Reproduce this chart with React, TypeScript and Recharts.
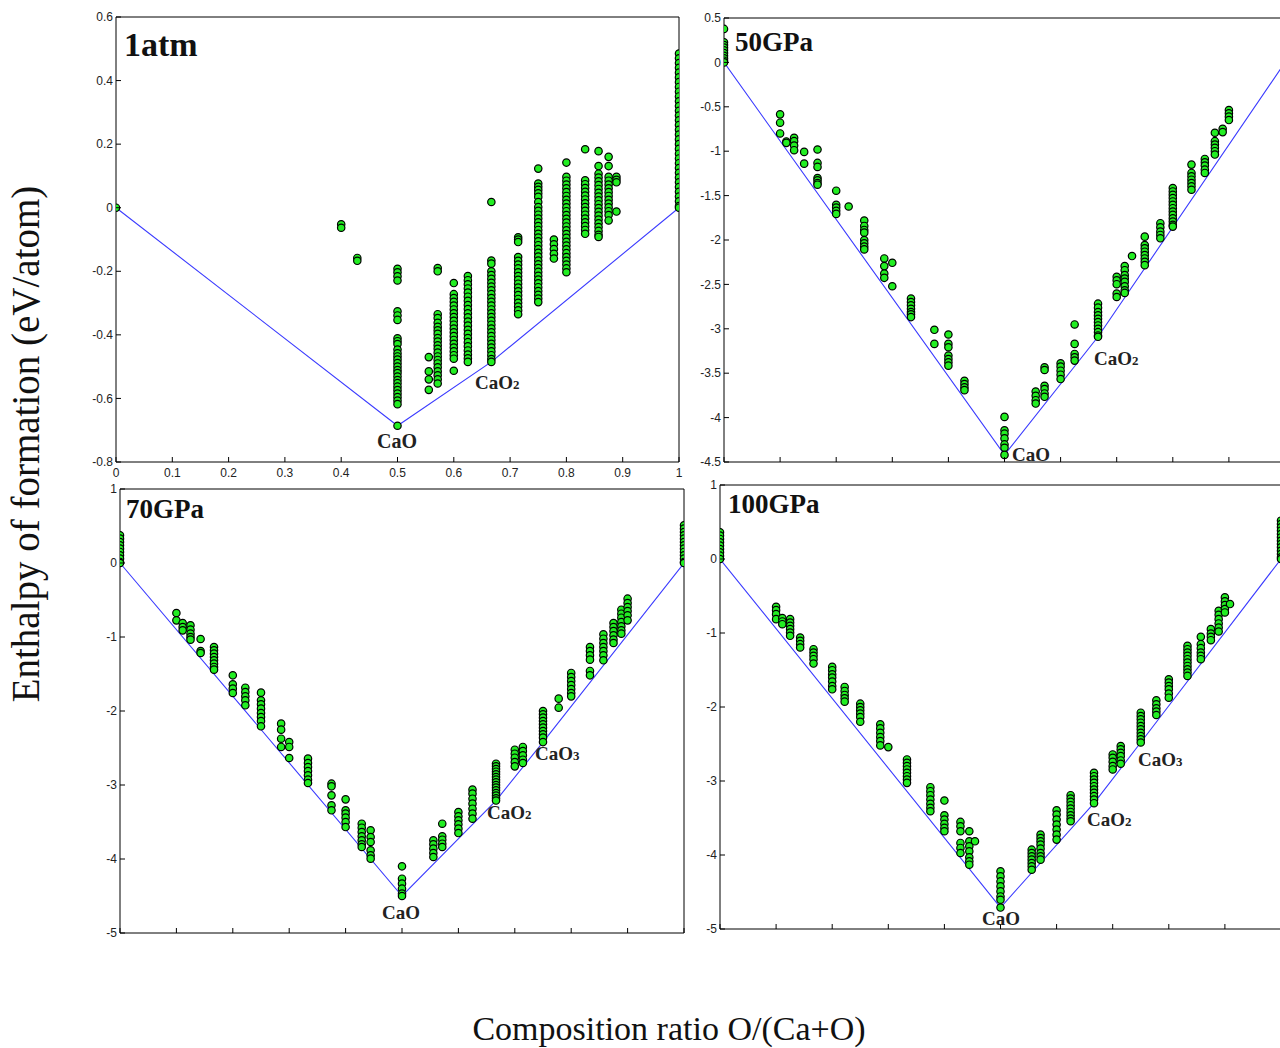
import React from 'react';
import { ComposedChart, Scatter, Line, XAxis, YAxis, ReferenceArea } from 'recharts';

type Col = [number, number[]];
type Pt = { x: number; y: number };

// ---------- shared ticks ----------
const xTicks = [0, 0.1, 0.2, 0.3, 0.4, 0.5, 0.6, 0.7, 0.8, 0.9, 1];
const xTickLabels = ['0', '0.1', '0.2', '0.3', '0.4', '0.5', '0.6', '0.7', '0.8', '0.9', '1'];
const yTicks1atm = [0.6, 0.4, 0.2, 0, -0.2, -0.4, -0.6, -0.8];
const yTicks50 = [0.5, 0, -0.5, -1, -1.5, -2, -2.5, -3, -3.5, -4, -4.5];
const yTicks70 = [1, 0, -1, -2, -3, -4, -5];
const yTicks100 = [1, 0, -1, -2, -3, -4, -5];

// ---------- 1 atm ----------
const cols1atm: Col[] = [
  [0, [0]],
  [0.4, [-0.052, -0.063]],
  [0.4286, [-0.158, -0.167]],
  [0.5, [-0.192, -0.203, -0.216, -0.229, -0.326, -0.339, -0.353, -0.411, -0.42, -0.429, -0.446, -0.458, -0.468, -0.478, -0.489, -0.5, -0.511, -0.52, -0.531, -0.542, -0.552, -0.563, -0.574, -0.585, -0.596, -0.607, -0.618, -0.686]],
  [0.5556, [-0.47, -0.515, -0.54, -0.573]],
  [0.5714, [-0.19, -0.2, -0.335, -0.347, -0.362, -0.375, -0.386, -0.397, -0.41, -0.421, -0.433, -0.444, -0.456, -0.468, -0.479, -0.49, -0.502, -0.515, -0.527, -0.54, -0.553]],
  [0.6, [-0.237, -0.272, -0.284, -0.296, -0.308, -0.32, -0.332, -0.344, -0.356, -0.368, -0.38, -0.392, -0.404, -0.416, -0.428, -0.44, -0.452, -0.464, -0.475, -0.513]],
  [0.625, [-0.215, -0.228, -0.241, -0.254, -0.267, -0.28, -0.293, -0.306, -0.319, -0.332, -0.345, -0.358, -0.371, -0.384, -0.397, -0.41, -0.423, -0.436, -0.449, -0.462, -0.474, -0.485]],
  [0.6667, [0.018, -0.166, -0.176, -0.2, -0.212, -0.224, -0.236, -0.248, -0.26, -0.272, -0.284, -0.296, -0.308, -0.32, -0.332, -0.344, -0.356, -0.368, -0.38, -0.392, -0.404, -0.416, -0.428, -0.44, -0.452, -0.464, -0.476, -0.485]],
  [0.7143, [-0.093, -0.1, -0.108, -0.155, -0.167, -0.179, -0.191, -0.203, -0.215, -0.227, -0.239, -0.251, -0.263, -0.275, -0.287, -0.299, -0.311, -0.323, -0.335]],
  [0.75, [0.123, 0.076, 0.066, 0.056, 0.045, 0.034, 0.018, 0.002, -0.01, -0.022, -0.034, -0.046, -0.058, -0.07, -0.082, -0.094, -0.106, -0.118, -0.13, -0.142, -0.154, -0.166, -0.178, -0.19, -0.202, -0.214, -0.226, -0.238, -0.25, -0.262, -0.274, -0.286, -0.297]],
  [0.7778, [-0.1, -0.115, -0.13, -0.145, -0.16]],
  [0.8, [0.142, 0.097, 0.085, 0.073, 0.061, 0.049, 0.037, 0.025, 0.013, 0.001, -0.011, -0.023, -0.035, -0.047, -0.059, -0.071, -0.083, -0.095, -0.107, -0.119, -0.131, -0.143, -0.155, -0.167, -0.179, -0.191, -0.203]],
  [0.8333, [0.184, 0.086, 0.074, 0.062, 0.05, 0.038, 0.026, 0.014, 0.002, -0.01, -0.022, -0.034, -0.046, -0.058, -0.07, -0.082]],
  [0.8571, [0.178, 0.131, 0.107, 0.095, 0.083, 0.071, 0.059, 0.047, 0.035, 0.023, 0.011, -0.001, -0.013, -0.025, -0.037, -0.049, -0.061, -0.073, -0.085, -0.092]],
  [0.875, [0.16, 0.131, 0.097, 0.085, 0.073, 0.061, 0.049, 0.037, 0.025, 0.013, 0.001, -0.011, -0.023, -0.04]],
  [0.8889, [0.097, 0.088, 0.08, -0.012]],
  [1, [0.485, 0.47, 0.455, 0.44, 0.425, 0.41, 0.395, 0.38, 0.365, 0.35, 0.335, 0.32, 0.305, 0.29, 0.275, 0.26, 0.245, 0.23, 0.215, 0.2, 0.185, 0.17, 0.155, 0.14, 0.125, 0.11, 0.095, 0.08, 0.065, 0.05, 0.035, 0.02, 0.005, 0]],
];
const hull1atm: Pt[] = [{ x: 0, y: 0 }, { x: 0.5, y: -0.686 }, { x: 0.6667, y: -0.485 }, { x: 1, y: 0 }];

// ---------- 50 GPa ----------
const cols50: Col[] = [
  [0, [0.377, 0.226, 0.196, 0.166, 0.136, 0.106, 0.075, 0.045, 0.019, 0]],
  [0.1, [-0.585, -0.679, -0.8]],
  [0.1111, [-0.89, -0.906]],
  [0.125, [-0.849, -0.887, -0.936, -0.989]],
  [0.1429, [-1.008, -1.14]],
  [0.1667, [-0.981, -1.132, -1.177, -1.302, -1.328, -1.358, -1.377]],
  [0.2, [-1.445, -1.604, -1.634, -1.672, -1.706]],
  [0.2222, [-1.623]],
  [0.25, [-1.781, -1.842, -1.887, -1.917, -2.0, -2.038, -2.075, -2.106]],
  [0.2857, [-2.208, -2.294, -2.377, -2.426]],
  [0.3, [-2.257, -2.521]],
  [0.3333, [-2.66, -2.698, -2.736, -2.774, -2.811, -2.838, -2.868]],
  [0.375, [-3.011, -3.17]],
  [0.4, [-3.064, -3.17, -3.208, -3.302, -3.34, -3.377, -3.415]],
  [0.4286, [-3.585, -3.623, -3.66, -3.691]],
  [0.5, [-3.992, -4.143, -4.181, -4.234, -4.302, -4.34, -4.42]],
  [0.5556, [-3.706, -3.755, -3.804, -3.842]],
  [0.5714, [-3.434, -3.464, -3.642, -3.679, -3.728, -3.766]],
  [0.6, [-3.389, -3.426, -3.472, -3.517, -3.566]],
  [0.625, [-2.951, -3.17, -3.283, -3.321, -3.358]],
  [0.6667, [-2.717, -2.762, -2.811, -2.849, -2.887, -2.925, -2.962, -3.0, -3.038, -3.075, -3.09]],
  [0.7, [-2.415, -2.453, -2.498, -2.604, -2.642]],
  [0.7143, [-2.294, -2.34, -2.396, -2.434, -2.472, -2.521, -2.566, -2.596]],
  [0.7273, [-2.181]],
  [0.75, [-1.962, -2.057, -2.094, -2.132, -2.17, -2.208, -2.245, -2.283]],
  [0.7778, [-1.811, -1.857, -1.906, -1.943, -1.981]],
  [0.8, [-1.415, -1.453, -1.491, -1.528, -1.566, -1.604, -1.642, -1.679, -1.717, -1.755, -1.792, -1.83, -1.849]],
  [0.8333, [-1.151, -1.245, -1.283, -1.321, -1.358, -1.396, -1.434]],
  [0.8571, [-1.087, -1.125, -1.162, -1.208, -1.245]],
  [0.875, [-0.792, -0.887, -0.925, -0.962, -1.0, -1.038]],
  [0.8889, [-0.747, -0.785]],
  [0.9, [-0.536, -0.574, -0.611, -0.649]],
];
const hull50: Pt[] = [{ x: 0, y: 0 }, { x: 0.5, y: -4.42 }, { x: 0.6667, y: -3.09 }, { x: 1, y: 0 }];

// ---------- 70 GPa ----------
const cols70: Col[] = [
  [0, [0.374, 0.329, 0.284, 0.239, 0.194, 0.149, 0.104, 0.059, 0.014, 0]],
  [0.1, [-0.676, -0.775]],
  [0.1111, [-0.811, -0.865, -0.91]],
  [0.125, [-0.842, -0.901, -0.955, -1.0, -1.036]],
  [0.1429, [-1.027, -1.189, -1.216]],
  [0.1667, [-1.135, -1.18, -1.225, -1.27, -1.315, -1.36, -1.405, -1.441]],
  [0.2, [-1.518, -1.64, -1.698, -1.757]],
  [0.2222, [-1.685, -1.743, -1.802, -1.856, -1.923]],
  [0.25, [-1.752, -1.856, -1.91, -1.968, -2.027, -2.081, -2.135, -2.207]],
  [0.2857, [-2.171, -2.252, -2.374, -2.486]],
  [0.3, [-2.419, -2.486, -2.635]],
  [0.3333, [-2.644, -2.703, -2.757, -2.811, -2.869, -2.928, -2.973]],
  [0.375, [-2.982, -3.018, -3.14, -3.275, -3.342]],
  [0.4, [-3.194, -3.342, -3.387, -3.441, -3.5, -3.568]],
  [0.4286, [-3.523, -3.577, -3.635, -3.694, -3.748, -3.802, -3.838]],
  [0.4444, [-3.613, -3.703, -3.77, -3.883, -3.95, -3.995]],
  [0.5, [-4.099, -4.266, -4.333, -4.401, -4.468, -4.5]],
  [0.5556, [-3.748, -3.802, -3.86, -3.919, -3.973]],
  [0.5714, [-3.523, -3.694, -3.739, -3.793, -3.838]],
  [0.6, [-3.365, -3.423, -3.477, -3.532, -3.59, -3.649]],
  [0.625, [-3.063, -3.117, -3.185, -3.252, -3.32, -3.387, -3.455]],
  [0.6667, [-2.712, -2.748, -2.784, -2.82, -2.856, -2.892, -2.928, -2.964, -3.0, -3.036, -3.072, -3.108, -3.144, -3.18, -3.21]],
  [0.7, [-2.523, -2.577, -2.631, -2.689, -2.748]],
  [0.7143, [-2.486, -2.541, -2.599, -2.658, -2.703]],
  [0.75, [-2.0, -2.045, -2.09, -2.135, -2.18, -2.225, -2.27, -2.315, -2.36, -2.42]],
  [0.7778, [-1.833, -1.955]],
  [0.8, [-1.486, -1.541, -1.595, -1.649, -1.703, -1.757, -1.802]],
  [0.8333, [-1.135, -1.189, -1.248, -1.306, -1.459, -1.518]],
  [0.8571, [-0.964, -1.023, -1.081, -1.135, -1.189, -1.248, -1.315]],
  [0.875, [-0.811, -0.865, -0.919, -0.977, -1.036, -1.081]],
  [0.8889, [-0.631, -0.685, -0.739, -0.797, -0.856, -0.91, -0.955]],
  [0.9, [-0.482, -0.541, -0.595, -0.649, -0.707, -0.775]],
  [1, [0.509, 0.464, 0.419, 0.374, 0.329, 0.284, 0.239, 0.194, 0.149, 0.104, 0.059, 0.014, 0]],
];
const hull70: Pt[] = [{ x: 0, y: 0 }, { x: 0.5, y: -4.5 }, { x: 0.6667, y: -3.21 }, { x: 0.75, y: -2.42 }, { x: 1, y: 0 }];

// ---------- 100 GPa ----------
const cols100: Col[] = [
  [0, [0.361, 0.316, 0.271, 0.226, 0.181, 0.135, 0.09, 0.045, 0]],
  [0.1, [-0.646, -0.691, -0.745, -0.813]],
  [0.1111, [-0.799, -0.844, -0.881]],
  [0.125, [-0.813, -0.858, -0.903, -0.948, -0.993, -1.038]],
  [0.1429, [-1.061, -1.106, -1.151, -1.196]],
  [0.1667, [-1.219, -1.264, -1.309, -1.354, -1.413]],
  [0.2, [-1.458, -1.503, -1.558, -1.603, -1.657, -1.716, -1.761]],
  [0.2222, [-1.729, -1.783, -1.837, -1.883, -1.928]],
  [0.25, [-1.955, -2.0, -2.045, -2.09, -2.135, -2.199]],
  [0.2857, [-2.235, -2.289, -2.348, -2.406, -2.461, -2.519]],
  [0.3, [-2.542]],
  [0.3333, [-2.709, -2.754, -2.799, -2.844, -2.889, -2.935, -2.98, -3.025]],
  [0.375, [-3.084, -3.138, -3.192, -3.251, -3.309, -3.363, -3.409]],
  [0.4, [-3.264, -3.463, -3.521, -3.58, -3.634, -3.679]],
  [0.4286, [-3.553, -3.612, -3.679, -3.837, -3.905, -3.973]],
  [0.4444, [-3.679, -3.815, -3.883, -3.95, -4.032, -4.086, -4.131]],
  [0.4545, [-3.815]],
  [0.5, [-4.221, -4.289, -4.357, -4.424, -4.492, -4.56, -4.605, -4.71]],
  [0.5556, [-3.928, -3.973, -4.018, -4.063, -4.108, -4.153, -4.199]],
  [0.5714, [-3.725, -3.77, -3.815, -3.86, -3.914, -3.973, -4.018, -4.063]],
  [0.6, [-3.395, -3.454, -3.521, -3.589, -3.657, -3.725, -3.792]],
  [0.625, [-3.192, -3.237, -3.282, -3.327, -3.372, -3.418, -3.463, -3.508, -3.544]],
  [0.6667, [-2.889, -2.935, -2.98, -3.025, -3.07, -3.115, -3.16, -3.205, -3.251, -3.3]],
  [0.7, [-2.641, -2.686, -2.74, -2.799, -2.844]],
  [0.7143, [-2.528, -2.573, -2.619, -2.664, -2.722, -2.767]],
  [0.75, [-2.077, -2.122, -2.167, -2.212, -2.257, -2.302, -2.348, -2.393, -2.438, -2.48]],
  [0.7778, [-1.91, -1.964, -2.018, -2.063, -2.108]],
  [0.8, [-1.625, -1.67, -1.716, -1.761, -1.819, -1.874]],
  [0.8333, [-1.174, -1.219, -1.264, -1.309, -1.354, -1.4, -1.445, -1.49, -1.535, -1.58]],
  [0.8571, [-1.052, -1.151, -1.205, -1.264, -1.309, -1.354]],
  [0.875, [-0.948, -1.007, -1.052, -1.097]],
  [0.8889, [-0.7, -0.754, -0.813, -0.871, -0.926, -0.98]],
  [0.9, [-0.519, -0.573, -0.623, -0.677, -0.722]],
  [0.9091, [-0.609]],
  [1, [0.519, 0.474, 0.429, 0.384, 0.338, 0.293, 0.248, 0.203, 0.158, 0.113, 0.068, 0.023, 0]],
];
const hull100: Pt[] = [{ x: 0, y: 0 }, { x: 0.5, y: -4.71 }, { x: 0.6667, y: -3.3 }, { x: 0.75, y: -2.48 }, { x: 1, y: 0 }];

// ---------- styling ----------
const GREEN = '#22ee22';
const SERIF = '"Liberation Serif", "Times New Roman", serif';
const SANS = '"Liberation Sans", Arial, sans-serif';
const ML = 40, MT = 10, MR = 10, XH = 25;

const Marker = (p: any) => (
  <circle cx={p.cx} cy={p.cy} r={3.7} fill={GREEN} stroke="#000" strokeWidth={1.2} />
);

const makeXTick = (showLabels: boolean) => (p: any) => {
  const { x, y, payload, index } = p;
  return (
    <g>
      <line x1={x} x2={x} y1={y} y2={y - 5} stroke="#000" strokeWidth={1} />
      {showLabels ? (
        <text x={x} y={y + 15} textAnchor="middle" fontFamily={SANS} fontSize={12} fill="#222">
          {xTickLabels[index] ?? String(payload.value)}
        </text>
      ) : null}
    </g>
  );
};

const YTick = (p: any) => {
  const { x, y, payload } = p;
  return (
    <g>
      <line x1={x} x2={x + 5} y1={y} y2={y} stroke="#000" strokeWidth={1} />
      <text x={x - 3} y={y} dy="0.35em" textAnchor="end" fontFamily={SANS} fontSize={12} fill="#222">
        {String(payload.value)}
      </text>
    </g>
  );
};

type PanelProps = {
  left: number; top: number; w: number; h: number;
  cols: Col[]; hull: Pt[]; yDomain: [number, number]; yTicks: number[]; xLabels: boolean;
};

function Panel({ left, top, w, h, cols, hull, yDomain, yTicks, xLabels }: PanelProps) {
  const points: Pt[] = cols.flatMap(([x, ys]) => ys.map((y) => ({ x, y })));
  return (
    <div style={{ position: 'absolute', left: left - ML, top: top - MT }}>
      <ComposedChart
        width={ML + w + MR}
        height={MT + h + XH}
        margin={{ top: MT, right: MR, left: 0, bottom: 0 }}
      >
        <XAxis
          type="number" dataKey="x" domain={[0, 1]} ticks={xTicks} interval={0}
          allowDataOverflow axisLine={false} tickLine={false} tickSize={0} tickMargin={0}
          height={XH} tick={makeXTick(xLabels)}
        />
        <YAxis
          type="number" dataKey="y" domain={yDomain} ticks={yTicks} interval={0}
          allowDataOverflow axisLine={false} tickLine={false} tickSize={0} tickMargin={0}
          width={ML} tick={YTick}
        />
        <ReferenceArea
          x1={0} x2={1} y1={yDomain[0]} y2={yDomain[1]}
          fill="none" fillOpacity={0} stroke="#000" strokeWidth={1} ifOverflow="visible"
        />
        <Line
          data={hull} dataKey="y" type="linear" stroke="#3b3bff" strokeWidth={1.1}
          dot={false} activeDot={false} isAnimationActive={false}
        />
        <Scatter data={points} shape={Marker} isAnimationActive={false} />
      </ComposedChart>
    </div>
  );
}

type Lbl = { main: string; sub?: string; x: number; y: number; anchor: 'start' | 'middle'; size: number };
const compoundLabels: Lbl[] = [
  { main: 'CaO', x: 397, y: 448, anchor: 'middle', size: 20 },
  { main: 'CaO', sub: '2', x: 475, y: 389, anchor: 'start', size: 19 },
  { main: 'CaO', x: 1012, y: 461, anchor: 'start', size: 19 },
  { main: 'CaO', sub: '2', x: 1094, y: 365, anchor: 'start', size: 19 },
  { main: 'CaO', x: 401, y: 919, anchor: 'middle', size: 19 },
  { main: 'CaO', sub: '2', x: 487, y: 819, anchor: 'start', size: 19 },
  { main: 'CaO', sub: '3', x: 535, y: 760, anchor: 'start', size: 19 },
  { main: 'CaO', x: 1001, y: 925, anchor: 'middle', size: 19 },
  { main: 'CaO', sub: '2', x: 1087, y: 826, anchor: 'start', size: 19 },
  { main: 'CaO', sub: '3', x: 1138, y: 766, anchor: 'start', size: 19 },
];

const panelTitles = [
  { text: '1atm', x: 124, y: 56, size: 34 },
  { text: '50GPa', x: 735, y: 51, size: 27 },
  { text: '70GPa', x: 126, y: 518, size: 27 },
  { text: '100GPa', x: 728, y: 513, size: 27 },
];

export default function App() {
  return (
    <div style={{ position: 'absolute', left: 0, top: 0, width: 1280, height: 1048, overflow: 'hidden', background: '#fff' }}>
      <Panel left={116} top={17} w={563} h={445} cols={cols1atm} hull={hull1atm} yDomain={[-0.8, 0.6]} yTicks={yTicks1atm} xLabels />
      <Panel left={724} top={18} w={561} h={444} cols={cols50} hull={hull50} yDomain={[-4.5, 0.5]} yTicks={yTicks50} xLabels={false} />
      <Panel left={120} top={489} w={564} h={444} cols={cols70} hull={hull70} yDomain={[-5, 1]} yTicks={yTicks70} xLabels={false} />
      <Panel left={720} top={485} w={561} h={444} cols={cols100} hull={hull100} yDomain={[-5, 1]} yTicks={yTicks100} xLabels={false} />
      <svg width={1280} height={1048} style={{ position: 'absolute', left: 0, top: 0, pointerEvents: 'none' }}>
        {panelTitles.map((t, i) => (
          <text key={i} x={t.x} y={t.y} fontFamily={SERIF} fontWeight="bold" fontSize={t.size} fill="#111">{t.text}</text>
        ))}
        {compoundLabels.map((l, i) => (
          <text key={i} x={l.x} y={l.y} textAnchor={l.anchor} fontFamily={SERIF} fontWeight="bold" fontSize={l.size} fill="#222">
            {l.main}
            {l.sub ? <tspan fontSize={l.size * 0.68}>{l.sub}</tspan> : null}
          </text>
        ))}
        <text transform="translate(39,444) rotate(-90)" textAnchor="middle" fontFamily={SERIF} fontSize={39} fill="#111">
          Enthalpy of formation (eV/atom)
        </text>
        <text x={669} y={1040} textAnchor="middle" fontFamily={SERIF} fontSize={34} fill="#111">
          Composition ratio O/(Ca+O)
        </text>
      </svg>
    </div>
  );
}
